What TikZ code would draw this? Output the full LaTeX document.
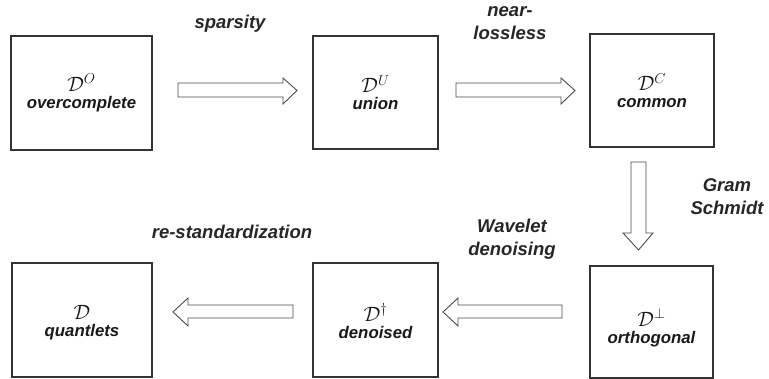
\documentclass[tikz,border=0pt]{standalone}
\usepackage{fontspec}
\setmainfont{Liberation Sans}
\begin{document}
\begin{tikzpicture}[x=1pt,y=-1pt,
  box/.style={draw=black!80, line width=1.3pt, minimum width=#1, inner sep=0pt},
  boxtext/.style={align=center, font=\bfseries\itshape\fontsize{16.8}{20}\selectfont, text=black!90, inner sep=0pt},
  lbl/.style={align=center, font=\bfseries\itshape\fontsize{18.5}{23}\selectfont, text=black!85, inner sep=0pt},
  fat/.style={draw=black!70, line width=0.9pt, fill=white, line join=miter}]
\useasboundingbox (0,0) rectangle (769,379);
% boxes
\node[box=141pt, minimum height=114pt] (over) at (81.5,93) {};
\node[box=125pt, minimum height=113pt] (union) at (375.5,92.5) {};
\node[box=124pt, minimum height=113pt] (common) at (652,90.5) {};
\node[box=140pt, minimum height=114pt] (quant) at (82,320) {};
\node[box=125pt, minimum height=114pt] (denoised) at (375.5,320) {};
\node[box=123pt, minimum height=112pt] (orth) at (651.5,322) {};
% contents
\node[boxtext] (t1) at (over) {\fontsize{22}{22}\selectfont$\mathcal{D}^{O}$\\[-3pt]overcomplete};
\node[boxtext] (t2) at (union) {\fontsize{22}{22}\selectfont$\mathcal{D}^{U}$\\[-3pt]union};
\node[boxtext] (t3) at (common) {\fontsize{22}{22}\selectfont$\mathcal{D}^{C}$\\[-3pt]common};
\node[boxtext] (t4) at ([yshift=-3pt]quant.center) {\fontsize{22}{22}\selectfont$\mathcal{D}$\\[-3pt]quantlets};
\node[boxtext] (t5) at ([yshift=-1pt]denoised.center) {\fontsize{22}{22}\selectfont$\mathcal{D}^{\dagger}$\\[-3pt]denoised};
\node[boxtext] (t6) at ([yshift=-6pt]orth.center) {\fontsize{22}{22}\selectfont$\mathcal{D}^{\perp}$\\[-3pt]orthogonal};
% fat arrows
\draw[fat] (178,83)--(283,83)--(283,78)--(297,90.5)--(283,104)--(283,97)--(178,97)--cycle;
\draw[fat] (456,83)--(561,83)--(561,78)--(575,90.5)--(561,104)--(561,97)--(456,97)--cycle;
\draw[fat] (631,162)--(646,162)--(646,233)--(653,233)--(638.5,250)--(623,233)--(631,233)--cycle;
\draw[fat] (562,305)--(458,305)--(458,298)--(443,312)--(458,326)--(458,318)--(562,318)--cycle;
\draw[fat] (293,305)--(188,305)--(188,298)--(173,312)--(188,326)--(188,318)--(293,318)--cycle;
% labels
\node[lbl] (l1) at (230,24) {sparsity};
\node[lbl] (l2) at (510,23) {near-\\lossless};
\node[lbl] (l3) at (727,197) {Gram\\Schmidt};
\node[lbl] (l4) at (512,239) {Wavelet\\denoising};
\node[lbl] (l5) at (232,232) {re-standardization};
\end{tikzpicture}
\end{document}
